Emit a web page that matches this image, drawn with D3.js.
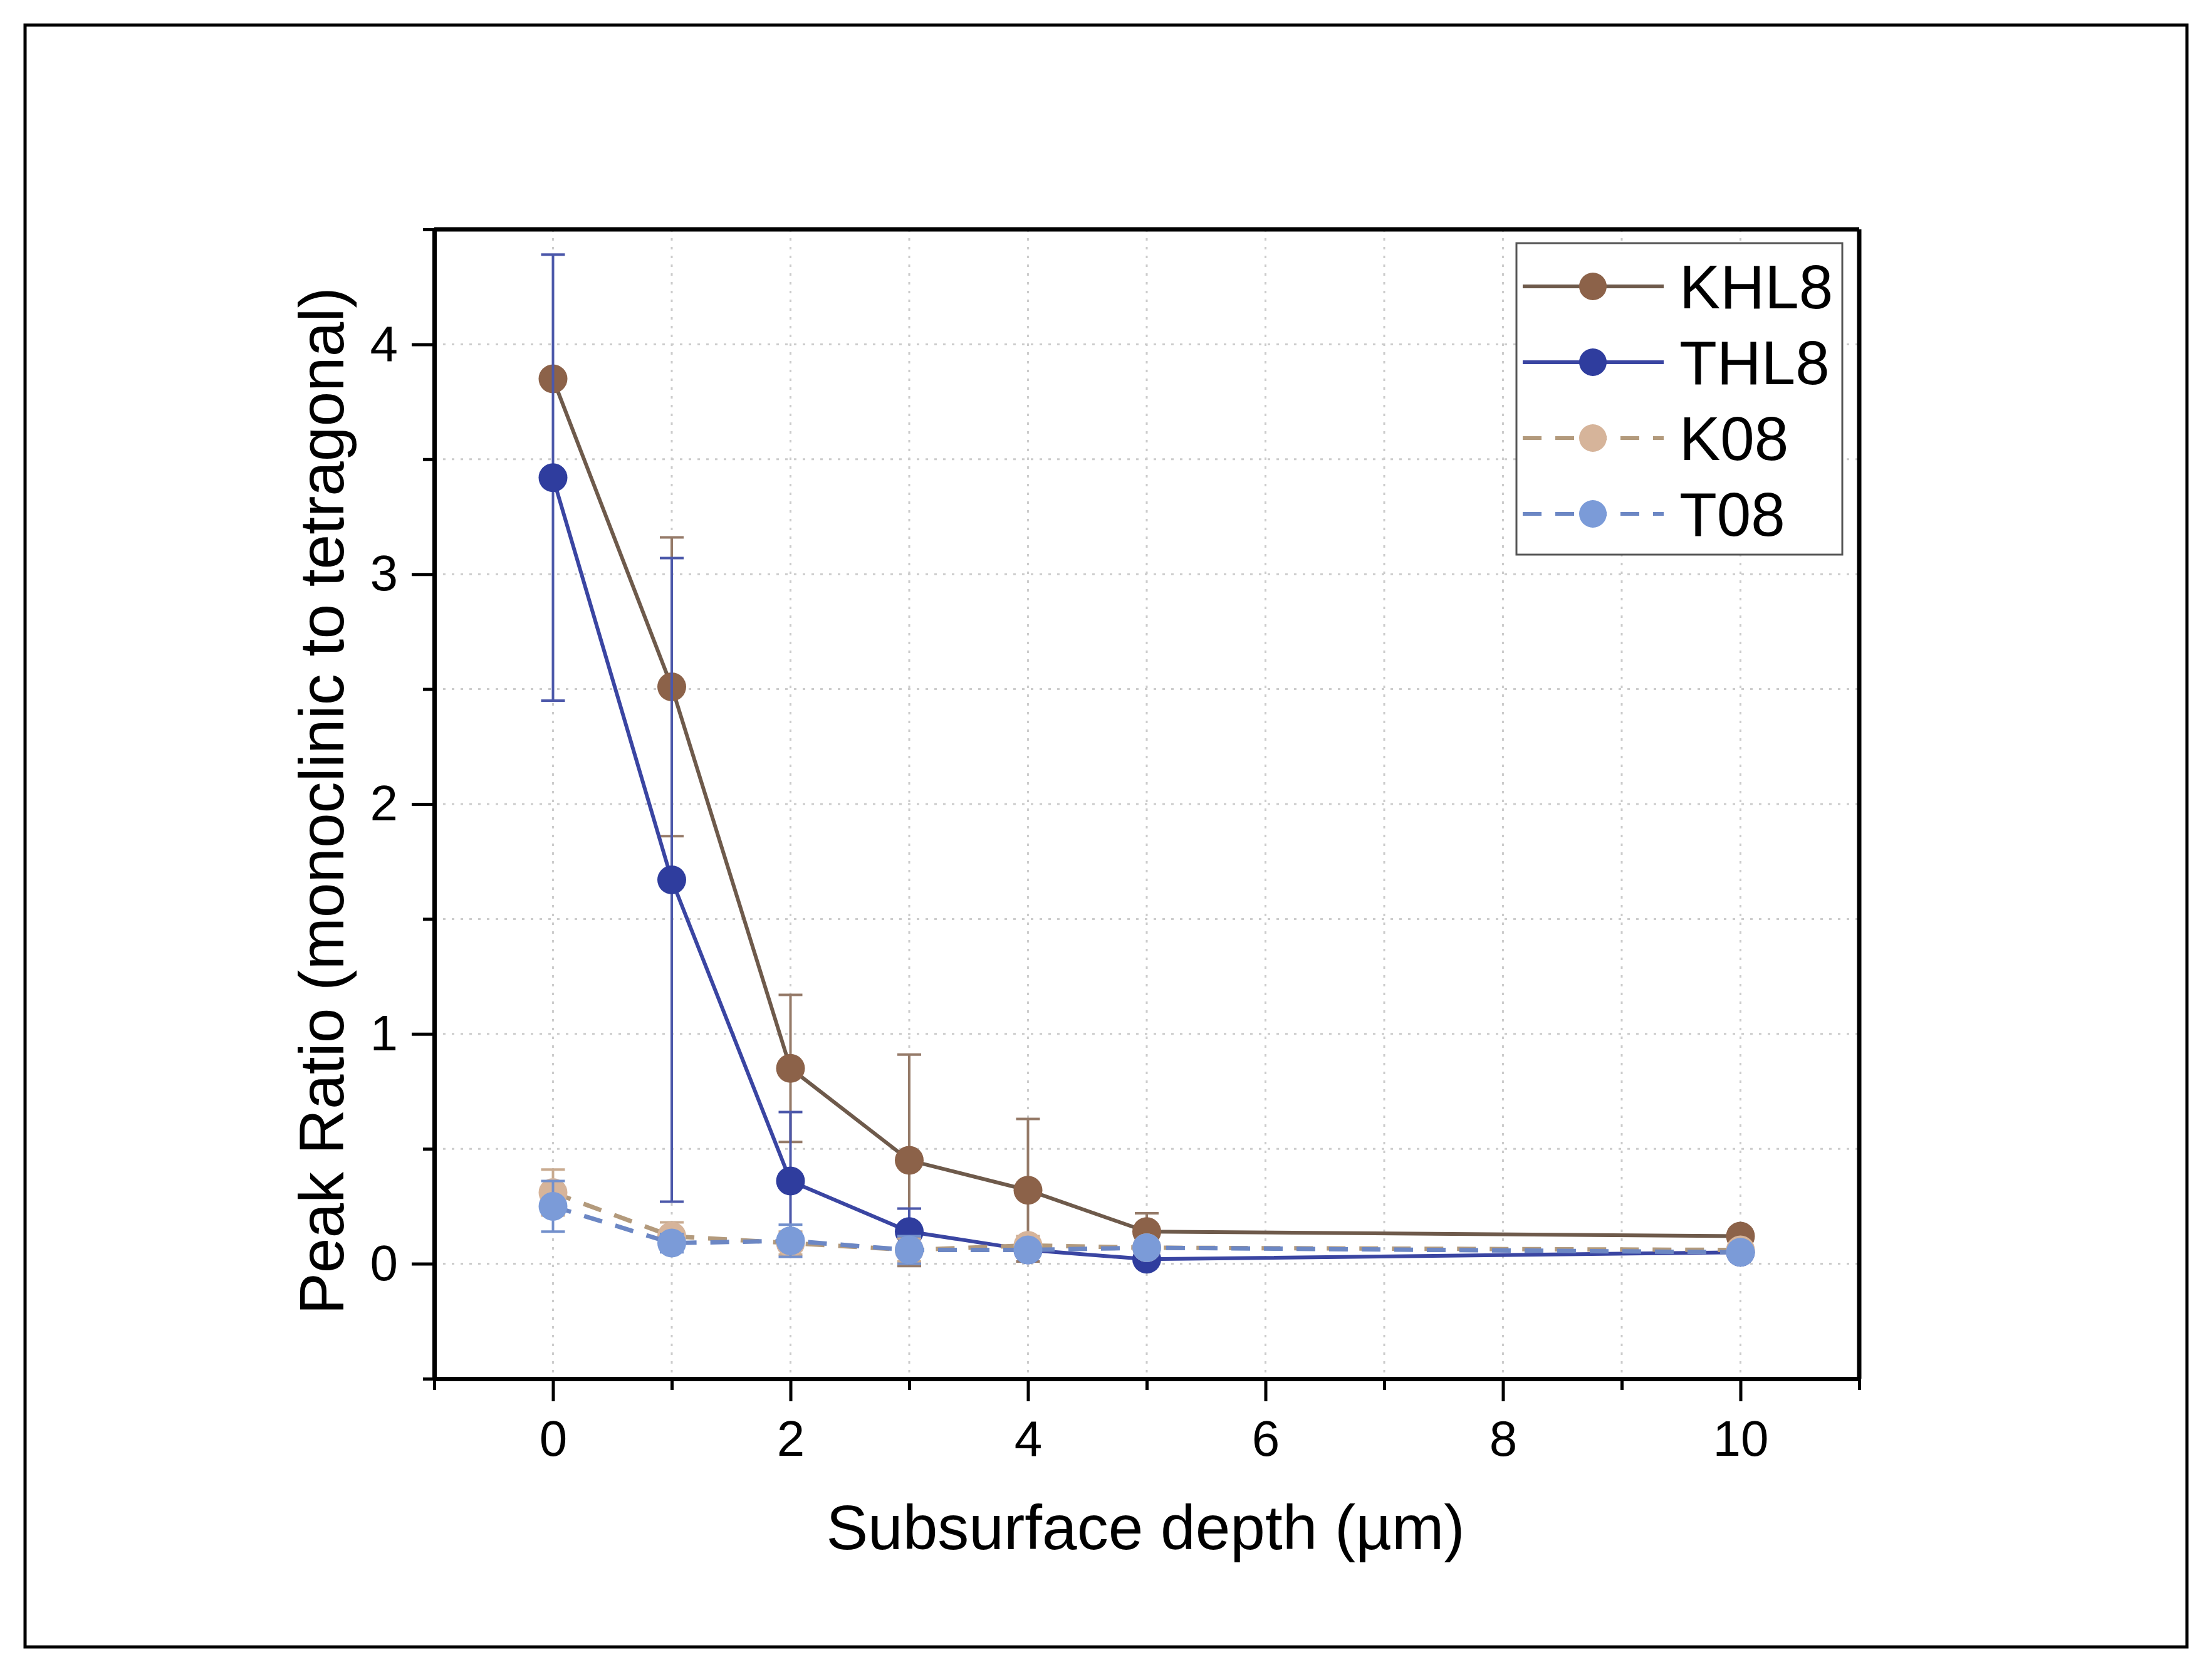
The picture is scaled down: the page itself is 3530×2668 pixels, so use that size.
<!DOCTYPE html>
<html>
<head>
<meta charset="utf-8">
<script src="https://cdn.jsdelivr.net/npm/d3@7"></script>
<style>
  body { margin: 0; background: #fff; }
  text { font-family: "Liberation Sans", Arial, sans-serif; fill: #000; }
</style>
</head>
<body>
<div class="js-chart"></div>
<script>
// data
var depth = [0, 1, 2, 3, 4, 5, 10];
var khl8 = [3.85, 2.51, 0.85, 0.45, 0.32, 0.14, 0.12];
var khl8Err = [0.03, 0.65, 0.32, 0.46, 0.31, 0.08, 0.03];
var thl8 = [3.42, 1.67, 0.36, 0.14, 0.06, 0.02, 0.05];
var thl8Err = [0.97, 1.40, 0.30, 0.10, 0.03, 0.02, 0.02];
var k08 = [0.31, 0.12, 0.09, 0.06, 0.08, 0.07, 0.06];
var k08Err = [0.10, 0.06, 0.05, 0.05, 0.04, 0.03, 0.02];
var t08 = [0.25, 0.09, 0.10, 0.06, 0.06, 0.07, 0.05];
var t08Err = [0.11, 0.04, 0.07, 0.06, 0.03, 0.03, 0.02];
var seriesNames = ["KHL8", "THL8", "K08", "T08"];
var xTicks = [0, 2, 4, 6, 8, 10];
var yTicks = [0, 1, 2, 3, 4];

var W = 3530, H = 2668;
var pLeft = 693, pRight = 2967, pTop = 366, pBottom = 2200;

var svg = d3.select(".js-chart").append("svg")
  .attr("width", W)
  .attr("height", H);

// outer frame
svg.append("rect")
  .attr("x", 40).attr("y", 40)
  .attr("width", W - 80).attr("height", H - 80)
  .attr("fill", "none").attr("stroke", "#000").attr("stroke-width", 5);

var x = d3.scaleLinear().domain([-1, 11]).range([pLeft, pRight]);
var y = d3.scaleLinear().domain([-0.5, 4.5]).range([pBottom, pTop]);

// grid
var grid = svg.append("g");
grid.selectAll(".vg").data(d3.range(0, 11, 1)).enter().append("line")
  .attr("x1", function(d) { return x(d); })
  .attr("x2", function(d) { return x(d); })
  .attr("y1", pTop).attr("y2", pBottom)
  .attr("stroke", "#cccccc").attr("stroke-width", 3)
  .attr("stroke-dasharray", "4,10");
grid.selectAll(".hg").data(d3.range(0, 4.5, 0.5)).enter().append("line")
  .attr("x1", pLeft).attr("x2", pRight)
  .attr("y1", function(d) { return y(d); })
  .attr("y2", function(d) { return y(d); })
  .attr("stroke", "#cccccc").attr("stroke-width", 3)
  .attr("stroke-dasharray", "4,10");

var series = [
  { name: "KHL8", v: khl8, e: khl8Err, line: "#6e5a4b", mark: "#8c6249", err: "#957a68", dash: null },
  { name: "THL8", v: thl8, e: thl8Err, line: "#3a45a2", mark: "#2f3d9e", err: "#4c58aa", dash: null },
  { name: "K08", v: k08, e: k08Err, line: "#b39a7c", mark: "#d6b49a", err: "#c9ab90", dash: "30,22" },
  { name: "T08", v: t08, e: t08Err, line: "#6c87c4", mark: "#7b9bd8", err: "#7390cc", dash: "30,22" }
];

var lineGen = d3.line()
  .x(function(d) { return x(d.x); })
  .y(function(d) { return y(d.y); });

series.forEach(function(s) {
  var pts = depth.map(function(d, i) { return { x: d, y: s.v[i], e: s.e[i] }; });
  var g = svg.append("g");

  // error bars
  var eb = g.selectAll(".eb").data(pts).enter().append("g");
  eb.append("line")
    .attr("x1", function(d) { return x(d.x); })
    .attr("x2", function(d) { return x(d.x); })
    .attr("y1", function(d) { return y(d.y - d.e); })
    .attr("y2", function(d) { return y(d.y + d.e); })
    .attr("stroke", s.err).attr("stroke-width", 4);
  [-1, 1].forEach(function(sign) {
    eb.append("line")
      .attr("x1", function(d) { return x(d.x) - 19; })
      .attr("x2", function(d) { return x(d.x) + 19; })
      .attr("y1", function(d) { return y(d.y + sign * d.e); })
      .attr("y2", function(d) { return y(d.y + sign * d.e); })
      .attr("stroke", s.err).attr("stroke-width", 4);
  });

  g.append("path")
    .datum(pts)
    .attr("d", lineGen)
    .attr("fill", "none")
    .attr("stroke", s.line)
    .attr("stroke-width", s.dash ? 7 : 6)
    .attr("stroke-dasharray", s.dash);

  g.selectAll("circle").data(pts).enter().append("circle")
    .attr("cx", function(d) { return x(d.x); })
    .attr("cy", function(d) { return y(d.y); })
    .attr("r", 23)
    .attr("fill", s.mark);
});

// axes
svg.append("g")
  .attr("transform", "translate(0," + pBottom + ")")
  .call(d3.axisBottom(x).tickValues(xTicks).tickSize(36).tickPadding(30).tickSizeOuter(0));
svg.append("g")
  .attr("transform", "translate(0," + pBottom + ")")
  .call(d3.axisBottom(x).tickValues(d3.range(-1, 12, 2)).tickSize(18).tickFormat("").tickSizeOuter(0));

svg.append("g")
  .attr("transform", "translate(" + pLeft + ",0)")
  .call(d3.axisLeft(y).tickValues(yTicks).tickFormat(d3.format("d")).tickSize(36).tickPadding(22).tickSizeOuter(0));
svg.append("g")
  .attr("transform", "translate(" + pLeft + ",0)")
  .call(d3.axisLeft(y).tickValues([-0.5, 0.5, 1.5, 2.5, 3.5, 4.5]).tickSize(18).tickFormat("").tickSizeOuter(0));

svg.selectAll(".domain").attr("stroke", "#000").attr("stroke-width", 7);
svg.selectAll(".tick line").attr("stroke", "#000").attr("stroke-width", 5);
svg.selectAll(".tick text").style("font-size", "80px").style("font-family", "Liberation Sans, Arial, sans-serif");

// top and right frame
svg.append("line").attr("x1", pLeft).attr("x2", pRight).attr("y1", pTop).attr("y2", pTop)
  .attr("stroke", "#000").attr("stroke-width", 7);
svg.append("line").attr("x1", pRight).attr("x2", pRight).attr("y1", pTop).attr("y2", pBottom)
  .attr("stroke", "#000").attr("stroke-width", 7);

// axis titles
svg.append("text")
  .attr("x", 1828)
  .attr("y", 2472)
  .attr("text-anchor", "middle")
  .style("font-size", "100px")
  .text("Subsurface depth (µm)");

svg.append("text")
  .attr("transform", "translate(548,1278) rotate(-90)")
  .attr("text-anchor", "middle")
  .style("font-size", "100px")
  .text("Peak Ratio (monoclinic to tetragonal)");

// legend
var lg = svg.append("g");
lg.append("rect")
  .attr("x", 2420).attr("y", 388)
  .attr("width", 520).attr("height", 497)
  .attr("fill", "#fff").attr("stroke", "#555").attr("stroke-width", 3);

series.forEach(function(s, i) {
  var ly = 457 + i * 121;
  lg.append("line")
    .attr("x1", 2430).attr("x2", 2655)
    .attr("y1", ly).attr("y2", ly)
    .attr("stroke", s.line).attr("stroke-width", 6)
    .attr("stroke-dasharray", s.dash);
  lg.append("circle")
    .attr("cx", 2542).attr("cy", ly).attr("r", 22)
    .attr("fill", s.mark);
  lg.append("text")
    .attr("x", 2680).attr("y", ly + 35)
    .style("font-size", "98px")
    .text(s.name);
});
</script>
</body>
</html>
